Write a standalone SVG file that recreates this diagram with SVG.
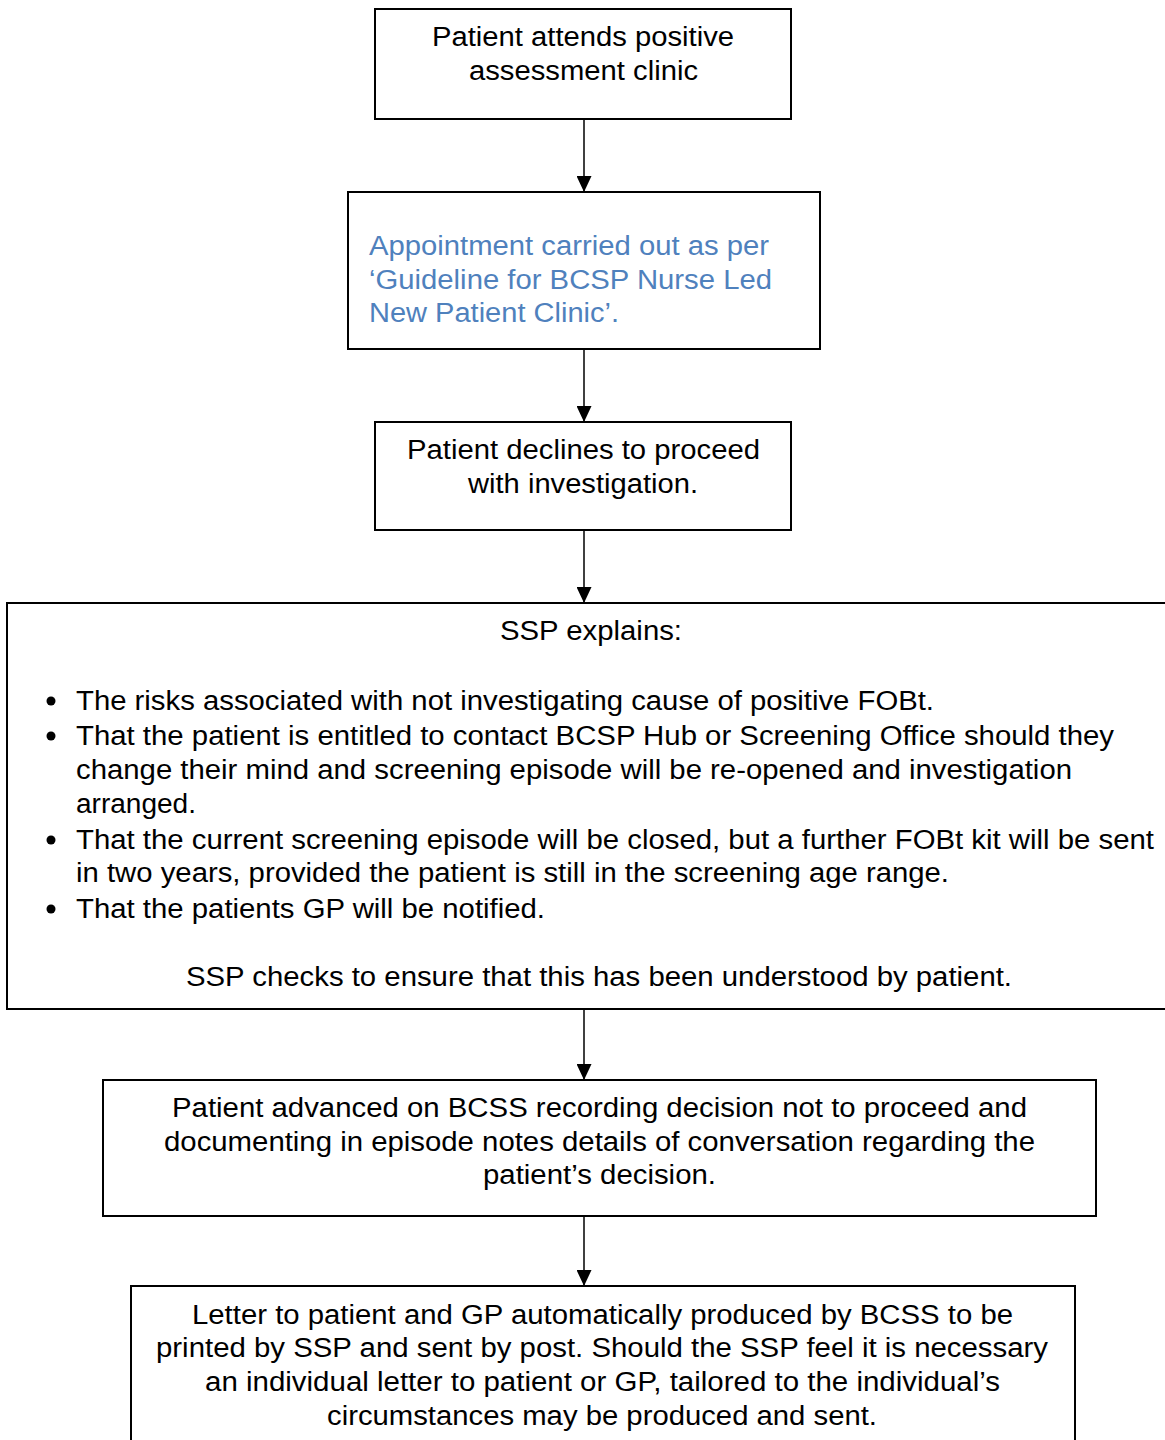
<svg xmlns="http://www.w3.org/2000/svg" width="1165" height="1440" viewBox="0 0 1165 1440">
<defs>
<marker id="arr" markerUnits="userSpaceOnUse" markerWidth="16" markerHeight="15" refX="16" refY="7.5" orient="auto">
<path d="M0,0 L16,7.5 L0,15 Z" fill="#000"/>
</marker>
</defs>
<style>
rect.box{fill:#fff;stroke:#000;stroke-width:2}
text{font-family:"Liberation Sans",Arial,sans-serif;font-size:27px;fill:#000}
text.c{text-anchor:middle}
text.blue{fill:#4F81BD}
line.con{stroke:#000;stroke-width:1.5;marker-end:url(#arr)}
</style>
<rect width="1165" height="1440" fill="#fff"/>
<g id="connectors">
<line class="con" x1="584" y1="119" x2="584" y2="192"/>
<line class="con" x1="584" y1="349" x2="584" y2="422"/>
<line class="con" x1="584" y1="530" x2="584" y2="603"/>
<line class="con" x1="584" y1="1009" x2="584" y2="1080"/>
<line class="con" x1="584" y1="1216" x2="584" y2="1286"/>
</g>
<g id="n1">
<rect class="box" x="375" y="9" width="416" height="110"/>
<text class="c" x="583" y="46" textLength="302" lengthAdjust="spacingAndGlyphs">Patient attends positive</text>
<text class="c" x="583.5" y="80" textLength="229" lengthAdjust="spacingAndGlyphs">assessment clinic</text>
</g>
<g id="n2">
<rect class="box" x="348" y="192" width="472" height="157"/>
<text class="blue" x="369" y="255" textLength="400" lengthAdjust="spacingAndGlyphs">Appointment carried out as per</text>
<text class="blue" x="369" y="289" textLength="403" lengthAdjust="spacingAndGlyphs">‘Guideline for BCSP Nurse Led</text>
<text class="blue" x="369" y="322" textLength="250" lengthAdjust="spacingAndGlyphs">New Patient Clinic’.</text>
</g>
<g id="n3">
<rect class="box" x="375" y="422" width="416" height="108"/>
<text class="c" x="583.5" y="459" textLength="353" lengthAdjust="spacingAndGlyphs">Patient declines to proceed</text>
<text class="c" x="583" y="493" textLength="230" lengthAdjust="spacingAndGlyphs">with investigation.</text>
</g>
<g id="n4">
<rect class="box" x="7" y="603" width="1170" height="406"/>
<text class="c" x="591" y="640" textLength="182" lengthAdjust="spacingAndGlyphs">SSP explains:</text>
<circle cx="51" cy="701" r="4.5"/>
<circle cx="51" cy="736" r="4.5"/>
<circle cx="51" cy="840" r="4.5"/>
<circle cx="51" cy="909" r="4.5"/>
<text x="76" y="710" textLength="858" lengthAdjust="spacingAndGlyphs">The risks associated with not investigating cause of positive FOBt.</text>
<text x="76" y="745" textLength="1038" lengthAdjust="spacingAndGlyphs">That the patient is entitled to contact BCSP Hub or Screening Office should they</text>
<text x="76" y="779" textLength="996" lengthAdjust="spacingAndGlyphs">change their mind and screening episode will be re-opened and investigation</text>
<text x="76" y="813" textLength="120" lengthAdjust="spacingAndGlyphs">arranged.</text>
<text x="76" y="849" textLength="1078" lengthAdjust="spacingAndGlyphs">That the current screening episode will be closed, but a further FOBt kit will be sent</text>
<text x="76" y="882" textLength="873" lengthAdjust="spacingAndGlyphs">in two years, provided the patient is still in the screening age range.</text>
<text x="76" y="918" textLength="469" lengthAdjust="spacingAndGlyphs">That the patients GP will be notified.</text>
<text class="c" x="599" y="986" textLength="826" lengthAdjust="spacingAndGlyphs">SSP checks to ensure that this has been understood by patient.</text>
</g>
<g id="n5">
<rect class="box" x="103" y="1080" width="993" height="136"/>
<text class="c" x="599.5" y="1117" textLength="855" lengthAdjust="spacingAndGlyphs">Patient advanced on BCSS recording decision not to proceed and</text>
<text class="c" x="599.5" y="1151" textLength="871" lengthAdjust="spacingAndGlyphs">documenting in episode notes details of conversation regarding the</text>
<text class="c" x="599.5" y="1184" textLength="233" lengthAdjust="spacingAndGlyphs">patient’s decision.</text>
</g>
<g id="n6">
<rect class="box" x="131" y="1286" width="944" height="170"/>
<text class="c" x="602.5" y="1324" textLength="821" lengthAdjust="spacingAndGlyphs">Letter to patient and GP automatically produced by BCSS to be</text>
<text class="c" x="602" y="1357" textLength="892" lengthAdjust="spacingAndGlyphs">printed by SSP and sent by post. Should the SSP feel it is necessary</text>
<text class="c" x="602.5" y="1391" textLength="795" lengthAdjust="spacingAndGlyphs">an individual letter to patient or GP, tailored to the individual’s</text>
<text class="c" x="602" y="1425" textLength="550" lengthAdjust="spacingAndGlyphs">circumstances may be produced and sent.</text>
</g>
</svg>
